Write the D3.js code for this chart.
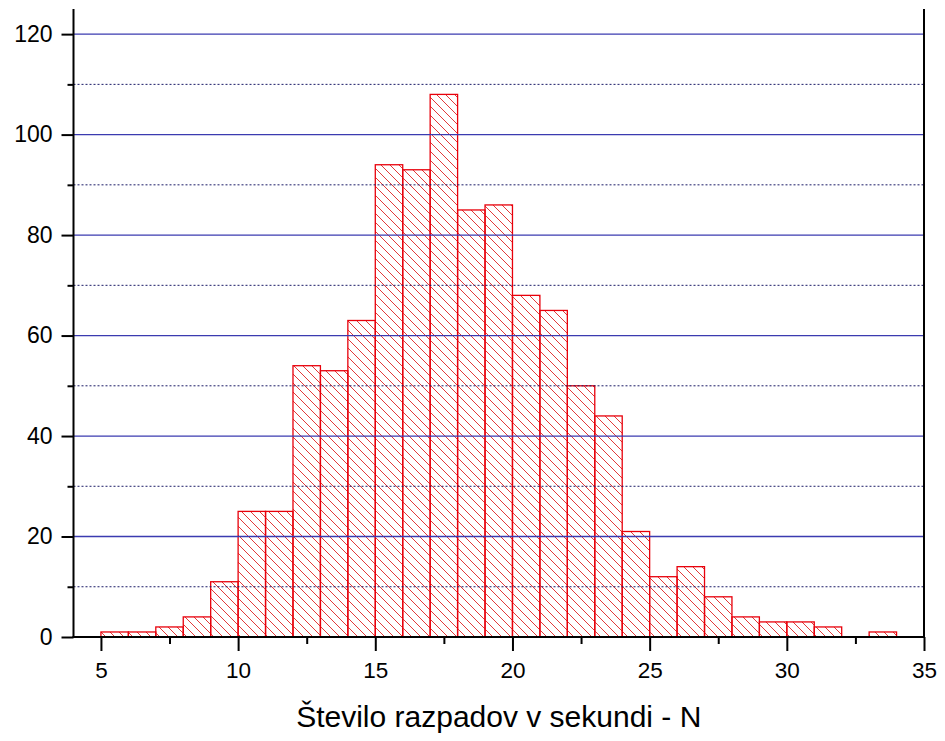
<!DOCTYPE html>
<html>
<head>
<meta charset="utf-8">
<script src="https://cdn.jsdelivr.net/npm/d3@7"></script>
<style>
  html, body { margin: 0; padding: 0; background: #fff; }
  svg { display: block; }
  text { font-family: "Liberation Sans", Arial, sans-serif; fill: #000; }
</style>
</head>
<body>
<svg id="chart" width="945" height="741"></svg>
<script>
// Histogram data: bin start (N), bin width 1, counts
const binStarts = [5, 6, 7, 8, 9, 10, 11, 12, 13, 14, 15, 16, 17, 18, 19, 20, 21, 22, 23, 24, 25, 26, 27, 28, 29, 30, 31, 32, 33];
const counts    = [1, 1, 2, 4, 11, 25, 25, 54, 53, 63, 94, 93, 108, 85, 86, 68, 65, 50, 44, 21, 12, 14, 8, 4, 3, 3, 2, 0, 1];
const xMajorTicks = [5, 10, 15, 20, 25, 30, 35];
const xMinorTicks = [7.5, 12.5, 17.5, 22.5, 27.5, 32.5];
const yMajorTicks = [0, 20, 40, 60, 80, 100, 120];
const yMinorTicks = [10, 30, 50, 70, 90, 110];
const xTitle = "Število razpadov v sekundi - N";

(function () {
const svg = d3.select("#chart");
const pLeft = 73.5, pRight = 924, pTop = 9, pBottom = 637;

const x = d3.scaleLinear().domain([4, 35]).range([pLeft, pRight]);
const y = d3.scaleLinear().domain([0, 125]).range([pBottom, pTop]);

// hatch pattern
const defs = svg.append("defs");
const pat = defs.append("pattern")
  .attr("id", "hatch")
  .attr("patternUnits", "userSpaceOnUse")
  .attr("width", 9).attr("height", 9);
pat.append("path")
  .attr("d", "M-1,-1 L10,10 M-1,8 L1,10 M8,-1 L10,1")
  .attr("stroke", "#e23a3a").attr("stroke-width", 1).attr("fill", "none");

// bars
const data = binStarts.map((s, i) => ({ s, c: counts[i] })).filter(d => d.c > 0);
svg.append("g").selectAll("rect").data(data).join("rect")
  .attr("x", d => x(d.s))
  .attr("y", d => y(d.c))
  .attr("width", d => x(d.s + 1) - x(d.s))
  .attr("height", d => y(0) - y(d.c))
  .attr("fill", "url(#hatch)")
  .attr("stroke", "#e8000b")
  .attr("stroke-width", 1.3);

// gridlines
const grid = svg.append("g");
grid.selectAll("line.maj").data(yMajorTicks.filter(v => v > 0)).join("line")
  .attr("class", "maj")
  .attr("x1", pLeft).attr("x2", pRight)
  .attr("y1", d => y(d)).attr("y2", d => y(d))
  .attr("stroke", "#3b3bb0").attr("stroke-width", 1.3);
grid.selectAll("line.min").data(yMinorTicks).join("line")
  .attr("class", "min")
  .attr("x1", pLeft).attr("x2", pRight)
  .attr("y1", d => y(d)).attr("y2", d => y(d))
  .attr("stroke", "#1a1a66").attr("stroke-width", 1)
  .attr("stroke-dasharray", "2,2");

// Y axis (left)
const yAxis = d3.axisLeft(y).tickValues(yMajorTicks).tickSize(12).tickPadding(9).tickFormat(d3.format("d"));
const gy = svg.append("g").attr("transform", `translate(${pLeft},0)`).call(yAxis);
gy.select(".domain").remove();
gy.selectAll(".tick line").attr("stroke", "#000").attr("stroke-width", 2);
gy.selectAll(".tick text").style("font-size", "23px").attr("font-family", "Liberation Sans, Arial, sans-serif");
const yAxisMinor = d3.axisLeft(y).tickValues(yMinorTicks).tickSize(6).tickFormat("");
const gym = svg.append("g").attr("transform", `translate(${pLeft},0)`).call(yAxisMinor);
gym.select(".domain").remove();
gym.selectAll(".tick line").attr("stroke", "#000").attr("stroke-width", 2);

// X axis (bottom)
const xAxis = d3.axisBottom(x).tickValues(xMajorTicks).tickSize(14).tickPadding(11).tickFormat(d3.format("d"));
const gx = svg.append("g").attr("transform", `translate(0,${pBottom})`).call(xAxis);
gx.select(".domain").remove();
gx.selectAll(".tick line").attr("stroke", "#000").attr("stroke-width", 2);
gx.selectAll(".tick text").style("font-size", "22.5px").attr("font-family", "Liberation Sans, Arial, sans-serif");
const xAxisMinor = d3.axisBottom(x).tickValues(xMinorTicks).tickSize(7).tickFormat("");
const gxm = svg.append("g").attr("transform", `translate(0,${pBottom})`).call(xAxisMinor);
gxm.select(".domain").remove();
gxm.selectAll(".tick line").attr("stroke", "#000").attr("stroke-width", 2);

// axis lines
const frame = svg.append("g").attr("stroke", "#000").attr("stroke-width", 2);
frame.append("line").attr("x1", pLeft).attr("x2", pLeft).attr("y1", pTop).attr("y2", pBottom + 1);
frame.append("line").attr("x1", pRight).attr("x2", pRight).attr("y1", pTop).attr("y2", pBottom + 1);
frame.append("line").attr("x1", pLeft - 1).attr("x2", pRight + 1).attr("y1", pBottom).attr("y2", pBottom);

// title
svg.append("text")
  .attr("x", (pLeft + pRight) / 2).attr("y", 727)
  .attr("text-anchor", "middle")
  .style("font-size", "30px")
  .text(xTitle);
})();
</script>
</body>
</html>
